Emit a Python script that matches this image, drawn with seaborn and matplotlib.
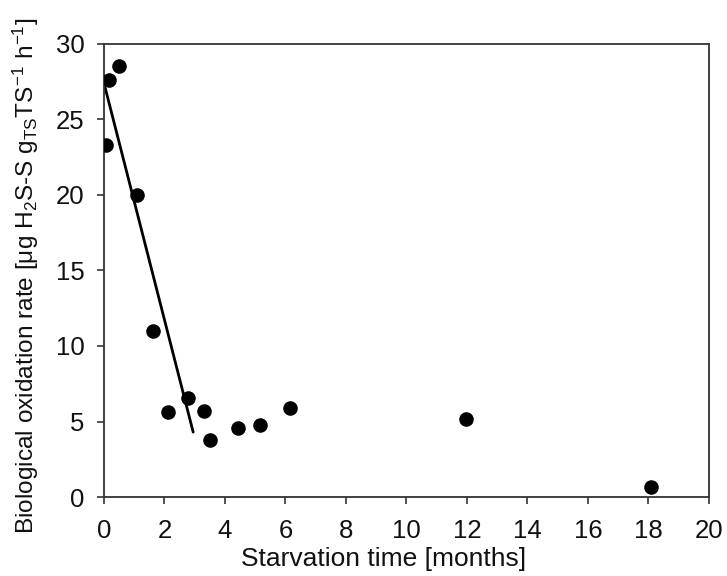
import matplotlib
matplotlib.use("Agg")
import matplotlib.pyplot as plt
import seaborn as sns
import pandas as pd

months = [0.07, 0.17, 0.50, 1.10, 1.63, 2.13, 2.78, 3.31, 3.50, 4.44, 5.15, 6.16, 11.97, 18.10]
rate = [23.3, 27.6, 28.55, 20.0, 11.0, 5.6, 6.55, 5.7, 3.8, 4.6, 4.8, 5.9, 5.15, 0.68]
fit_x = [0.0, 2.95]
fit_y = [27.4, 4.3]
x_ticks = [0, 2, 4, 6, 8, 10, 12, 14, 16, 18, 20]
y_ticks = [0, 5, 10, 15, 20, 25, 30]

sns.set_style("white")
plt.rcParams['font.family'] = ['Liberation Sans', 'DejaVu Sans']
plt.rcParams['mathtext.fontset'] = 'custom'
plt.rcParams['mathtext.rm'] = 'Liberation Sans'
plt.rcParams['mathtext.it'] = 'Liberation Sans'
plt.rcParams['text.color'] = '#111111'
plt.rcParams['axes.labelcolor'] = '#111111'
plt.rcParams['xtick.color'] = '#111111'
plt.rcParams['ytick.color'] = '#111111'

df = pd.DataFrame({"months": months, "rate": rate})
fit = pd.DataFrame({"x": fit_x, "y": fit_y})

fig = plt.figure(figsize=(7.27, 5.76), dpi=100)
ax = fig.add_axes([0.143, 0.137, 0.832, 0.787])
sns.lineplot(data=fit, x="x", y="y", ax=ax, color="black", linewidth=2)
sns.scatterplot(data=df, x="months", y="rate", ax=ax, color="black", s=110, edgecolor="black", linewidth=0, zorder=3)

ax.set_xlim(0, 20)
ax.set_ylim(0, 30)
ax.set_xticks(x_ticks)
ax.set_yticks(y_ticks)
ax.tick_params(axis="both", direction="out", length=5, width=1.2, color="#333333", labelsize=18.5,
               bottom=True, left=True)
ax.tick_params(axis="x", pad=11)
ax.tick_params(axis="y", pad=9)
for s in ax.spines.values():
    s.set_visible(True)
    s.set_color("#333333")
    s.set_linewidth(1.3)
ax.set_xlabel("Starvation time [months]", fontsize=19)
ax.set_ylabel(r"Biological oxidation rate [μg H$_2$S-S g$_{\mathrm{TS}}$TS$^{-1}$ h$^{-1}$]", fontsize=17.6)
ax.xaxis.set_label_coords(0.462, -0.110)
ax.yaxis.set_label_coords(-0.104, 0.488)
fig.savefig("out.png", dpi=100)
